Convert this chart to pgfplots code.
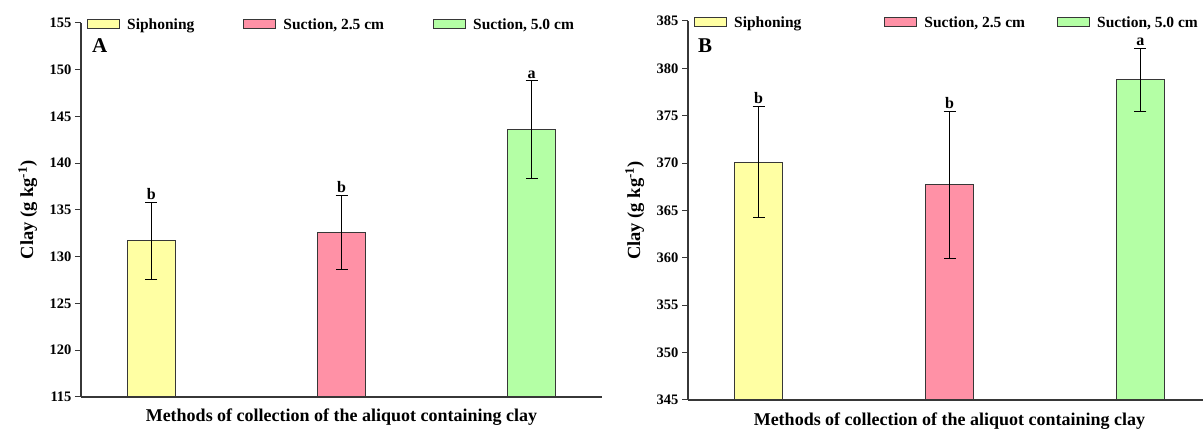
\documentclass[border=0pt]{standalone}
\usepackage{fontspec}
\setmainfont{Liberation Serif}
\usepackage{pgfplots}
\pgfplotsset{compat=1.18}
\definecolor{cyel}{RGB}{255,255,163}
\definecolor{cpink}{RGB}{255,145,166}
\definecolor{cgreen}{RGB}{180,255,165}
\definecolor{cedge}{RGB}{55,55,55}
\newcommand{\fs}[1]{\fontsize{#1}{#1}\selectfont\bfseries}
\pgfplotsset{
  swatch/.style={legend image code/.code={\draw[fill=##1,draw=cedge,line width=1pt] (0pt,-4.5pt) rectangle (32pt,4.5pt);}},
  panel/.style={
    scale only axis, width=521pt, height=374pt,
    axis lines=left, axis line style={line width=1.3pt, color=cedge, -},
    ybar, bar width=48pt, bar shift=0pt,
    xmin=-0.37, xmax=2.37, xtick=\empty,
    ytick distance=5,
    /pgf/number format/assume math mode=true,
    yticklabel style={font=\fs{14.5}, xshift=0pt},
    y tick style={line width=1pt, color=cedge},
    tick align=outside, major tick length=6pt,
    ylabel={Clay (g kg\textsuperscript{-1})},
    ylabel style={font=\fs{18.5}, at={(axis description cs:-0.102,0.5)}, anchor=center},
    xlabel={Methods of collection of the aliquot containing clay},
    xlabel style={font=\fs{18}, at={(axis description cs:0.5,0)}, anchor=center, yshift=-20pt},
    legend columns=3,
    legend style={draw=none, fill=none, font=\fs{15.5},
      at={(axis description cs:0.0,1)}, anchor=west, xshift=3pt, yshift=-1.5pt,
      /tikz/every odd column/.append style={column sep=5pt},
      /tikz/every even column/.append style={column sep=47pt}},
    error bars/y dir=both, error bars/y explicit,
    error bars/error bar style={line width=1pt, black},
    error bars/error mark options={rotate=90, mark size=6pt, line width=1pt, black},
  },
}
\begin{document}
\begin{tikzpicture}
\useasboundingbox (0,0) rectangle (1203pt,430pt);
% Panel A
\begin{axis}[panel, at={(81pt,33pt)}, anchor=south west,
  ymin=115, ymax=155]
\addplot[fill=cyel, draw=cedge, line width=1pt, swatch=cyel] coordinates {(0,131.7) +- (0,4.1)};
\addplot[fill=cpink, draw=cedge, line width=1pt, swatch=cpink] coordinates {(1,132.6) +- (0,4.0)};
\addplot[fill=cgreen, draw=cedge, line width=1pt, swatch=cgreen] coordinates {(2,143.6) +- (0,5.2)};
\legend{Siphoning, {Suction, 2.5 cm}, {Suction, 5.0 cm}}
\node[anchor=west, font=\fs{21}, inner sep=0pt] at (axis description cs:0.021,0.94) {A};
\node[anchor=south, font=\fs{16}, inner sep=2.5pt] at (axis cs:0,135.8) {b};
\node[anchor=south, font=\fs{16}, inner sep=2.5pt] at (axis cs:1,136.6) {b};
\node[anchor=south, font=\fs{16}, inner sep=2.5pt] at (axis cs:2,148.8) {a};
\end{axis}
% Panel B
\begin{axis}[panel, at={(688pt,30pt)}, anchor=south west, width=523pt, height=379pt,
  ymin=345, ymax=385, xlabel style={yshift=-1pt}]
\addplot[fill=cyel, draw=cedge, line width=1pt, swatch=cyel] coordinates {(0,370.1) +- (0,5.85)};
\addplot[fill=cpink, draw=cedge, line width=1pt, swatch=cpink] coordinates {(1,367.7) +- (0,7.8)};
\addplot[fill=cgreen, draw=cedge, line width=1pt, swatch=cgreen] coordinates {(2,378.8) +- (0,3.3)};
\legend{Siphoning\hspace*{34pt}, {Suction, 2.5 cm\hspace*{-17pt}}, {Suction, 5.0 cm}}
\node[anchor=west, font=\fs{21}, inner sep=0pt] at (axis description cs:0.019,0.935) {B};
\node[anchor=south, font=\fs{16}, inner sep=2.5pt] at (axis cs:0,375.95) {b};
\node[anchor=south, font=\fs{16}, inner sep=2.5pt] at (axis cs:1,375.5) {b};
\node[anchor=south, font=\fs{16}, inner sep=2.5pt] at (axis cs:2,382.1) {a};
\end{axis}
\end{tikzpicture}
\end{document}
